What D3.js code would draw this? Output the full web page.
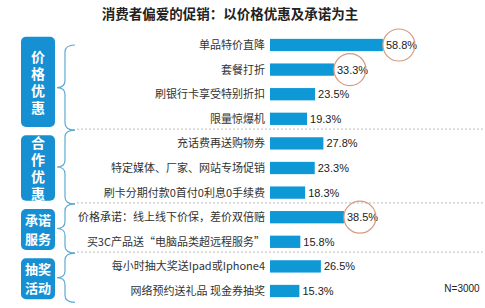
<!DOCTYPE html>
<html>
<head>
<meta charset="utf-8">
<script src="https://cdn.jsdelivr.net/npm/d3@7"></script>
<style>
  body { margin: 0; background: #fff; }
  svg { display: block; }
</style>
</head>
<body>
<svg id="chart" width="485" height="308"></svg>
<script>
// data
const labels = [
  "单品特价直降", "套餐打折", "刷银行卡享受特别折扣", "限量惊爆机",
  "充话费再送购物券", "特定媒体、厂家、网站专场促销", "刷卡分期付款0首付0利息0手续费",
  "价格承诺：线上线下价保，差价双倍赔", "买3C产品送“电脑品类超远程服务”",
  "每小时抽大奖送Ipad或Iphone4", "网络预约送礼品 现金券抽奖"
];
const values = [58.8, 33.3, 23.5, 19.3, 27.8, 23.3, 18.3, 38.5, 15.8, 26.5, 15.3];
const circled = [0, 1, 7]; // values ringed in the picture
const groupNames = [["价格优惠"], ["合作优惠"], ["承诺","服务"], ["抽奖","活动"]];
const groupStart = [0, 4, 7, 9];
const groupEnd = [3, 6, 8, 10];

const svg = d3.select('#chart');
const blue = "#0f98d6";

let x = d3.scaleLinear().domain([0, 100]).range([270, 462]);
let y = d3.scaleBand().domain(d3.range(labels.length))
    .range([32.7, 303.3]).paddingInner(0.5).paddingOuter(0.25);
const bw = y.bandwidth(), step = y.step();

// title
svg.append("text")
    .attr("x", 230).attr("y", 19)
    .attr("text-anchor", "middle")
    .style("font", "bold 13.5px 'Noto Sans CJK SC'")
    .attr("fill", "#222")
    .text("消费者偏爱的促销：以价格优惠及承诺为主");

// dashed separators between groups
groupEnd.slice(0, 3).forEach(function(e){
    let yy = y(e) + bw + (step - bw) / 2 - 2;
    svg.append("line")
        .attr("x1", 77).attr("x2", 485)
        .attr("y1", yy).attr("y2", yy)
        .attr("stroke", "#bdbdbd").attr("stroke-dasharray", "2,2");
});

// group boxes, braces
groupStart.forEach(function(s, i){
    let e = groupEnd[i];
    let top = y(s) - 2, bot = y(e) + bw + 2;
    let mid = (top + bot) / 2;
    svg.append("rect")
        .attr("x", 21).attr("y", top)
        .attr("width", 34).attr("height", bot - top)
        .attr("rx", 5).attr("fill", "#1690d3");

    let lines = groupNames[i];
    if (lines.length == 1) {
        // one column, written top to bottom
        svg.append("text")
            .attr("x", 38).attr("y", mid + 1.5)
            .attr("text-anchor", "middle")
            .attr("fill", "#fff")
            .style("writing-mode", "vertical-rl")
            .style("letter-spacing", "3px")
            .style("font", "bold 14px 'Noto Sans CJK SC'")
            .text(lines[0]);
    } else {
        let t = svg.append("text")
            .attr("text-anchor", "middle")
            .attr("fill", "#fff")
            .style("font", "bold 13px 'Noto Sans CJK SC'");
        lines.forEach(function(w, k){
            t.append("tspan")
                .attr("x", 38)
                .attr("y", mid + (k - 0.5) * 19)
                .attr("dy", "0.36em")
                .text(w);
        });
    }

    // curly brace
    let bTop = s == 0 ? y(s) + bw / 2 : y(s) - (step - bw) / 2 - 1;
    let bBot = y(e) + bw + (step - bw) / 2 - 1;
    let bMid = (bTop + bBot) / 2;
    let x0 = 57, x1 = 65, x2 = 75, r = 7;
    let p = `M${x2},${bTop} Q${x1},${bTop} ${x1},${bTop + r} L${x1},${bMid - r} ` +
            `Q${x1},${bMid} ${x0},${bMid} Q${x1},${bMid} ${x1},${bMid + r} ` +
            `L${x1},${bBot - r} Q${x1},${bBot} ${x2},${bBot}`;
    svg.append("path").attr("d", p)
        .attr("fill", "none").attr("stroke", "#5fa9d3").attr("stroke-width", 1.2);
});

// bars
svg.append("g").selectAll("rect")
    .data(values)
    .enter().append("rect")
    .attr("x", x(0))
    .attr("y", (d, i) => y(i))
    .attr("width", d => x(d) - x(0))
    .attr("height", bw)
    .attr("fill", blue);

// category labels
svg.append("g").selectAll("text")
    .data(labels)
    .enter().append("text")
    .attr("x", 265)
    .attr("y", (d, i) => y(i) + bw / 2)
    .attr("dy", "0.36em")
    .attr("text-anchor", "end")
    .attr("fill", "#333")
    .style("font", "11px 'Noto Sans CJK SC'")
    .text(d => d);

// value labels
svg.append("g").selectAll("text")
    .data(values)
    .enter().append("text")
    .attr("x", d => x(d) + 3)
    .attr("y", (d, i) => y(i) + bw / 2)
    .attr("dy", "0.36em")
    .attr("fill", "#222")
    .style("font", "11px 'Liberation Sans'")
    .text(d => d.toFixed(1) + "%");

// rings round the key values
circled.forEach(function(i){
    svg.append("circle")
        .attr("cx", x(values[i]) + 16)
        .attr("cy", y(i) + bw / 2)
        .attr("r", 16)
        .attr("fill", "none")
        .attr("stroke", "#d69a82")
        .attr("stroke-width", 1.2);
});

svg.append("text")
    .attr("x", 462).attr("y", 288)
    .attr("dy", "0.36em")
    .attr("text-anchor", "middle")
    .attr("fill", "#222")
    .style("font", "10px 'Liberation Sans'")
    .text("N=3000");
</script>
</body>
</html>
